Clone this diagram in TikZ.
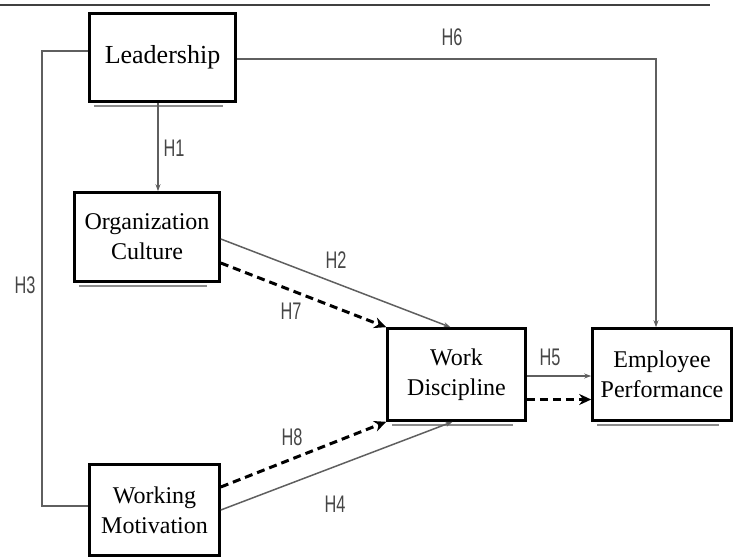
\documentclass[tikz,border=0pt]{standalone}
\usepackage{fontspec}
\setmainfont{Liberation Serif}
\newfontfamily\hfont[FakeStretch=0.68]{Liberation Sans}
\usetikzlibrary{arrows.meta}
\definecolor{linkgray}{RGB}{95,95,95}
\definecolor{hgray}{RGB}{70,70,70}
\definecolor{shadowgray}{RGB}{140,140,140}

\begin{document}
\begin{tikzpicture}[x=1pt,y=-1pt,>={Stealth[length=7pt,width=5pt]},
 box/.style={draw,line width=2.6pt,align=center,inner sep=0pt,font=\fontsize{24}{30}\selectfont},
 link/.style={draw=linkgray,line width=1.5pt},
 mediated/.style={line width=3pt,dash pattern=on 8pt off 5pt,-{Stealth[length=12pt,width=11pt]}},
 hyp/.style={text=hgray,font=\hfont\fontsize{24}{24}\selectfont}]
\useasboundingbox (0,0) rectangle (739,559);
\node[box,minimum width=146pt,minimum height=88pt,font=\fontsize{26}{30}\selectfont] (lead) at (162.5,57.5) {Leadership};
\node[box,minimum width=145pt,minimum height=89pt] (orgc) at (147,237) {Organization\\Culture};
\node[box,minimum width=138pt,minimum height=92pt] (disc) at (456.5,374.5) {Work\\Discipline};
\node[box,minimum width=139pt,minimum height=92pt] (perf) at (662,374.5) {Employee\\Performance};
\node[box,minimum width=130pt,minimum height=91pt] (motiv) at (154.5,510) {Working\\Motivation};
\foreach \b in {lead,orgc,disc,perf,motiv}
  \draw[shadowgray,line width=1.6pt] ([xshift=6pt,yshift=-3pt]\b.south west) -- ([xshift=-14pt,yshift=-3pt]\b.south east);
%
\coordinate (ruleL) at (0,5);
\coordinate (ruleR) at (710,5);
\coordinate (h3top) at (42,51);
\coordinate (h3bot) at (42,506);
\coordinate (h6top) at (656,59);
%
\draw[black!75,line width=1.5pt] (ruleL) -- (ruleR);
\draw[link] (lead.west|-h3top) -- (h3top) -- (h3bot) -- (motiv.west|-h3bot);
\draw[link,->] (lead.east|-h6top) -- (h6top) -- (h6top|-perf.north);
\draw[link,->] ([xshift=-4.5pt]lead.south) -- ([xshift=-4.5pt]lead.south|-orgc.north);
\draw[link,->] ([yshift=-2pt]orgc.east) -- ([xshift=-6pt]disc.north);
\draw[link,->] ([yshift=-1.5pt]disc.east) -- ([yshift=-1.5pt]perf.west);
\draw[link,->] (motiv.east) -- ([xshift=-4pt]disc.south);
% mediated paths
\draw[mediated] ([yshift=-26pt]orgc.east) -- (disc.north west);
\draw[mediated] ([yshift=-25pt]disc.east) -- ([yshift=-25pt]perf.west);
\draw[mediated] ([yshift=23pt]motiv.east) -- (disc.south west);
%
\node[hyp] (h1) at (174,148) {H1};
\node[hyp] (h2) at (336,260) {H2};
\node[hyp] (h3) at (25,285) {H3};
\node[hyp] (h4) at (335,504) {H4};
\node[hyp] (h5) at (550,357) {H5};
\node[hyp] (h6) at (452,37) {H6};
\node[hyp] (h7) at (291,311) {H7};
\node[hyp] (h8) at (292,437) {H8};
\end{tikzpicture}
\end{document}
